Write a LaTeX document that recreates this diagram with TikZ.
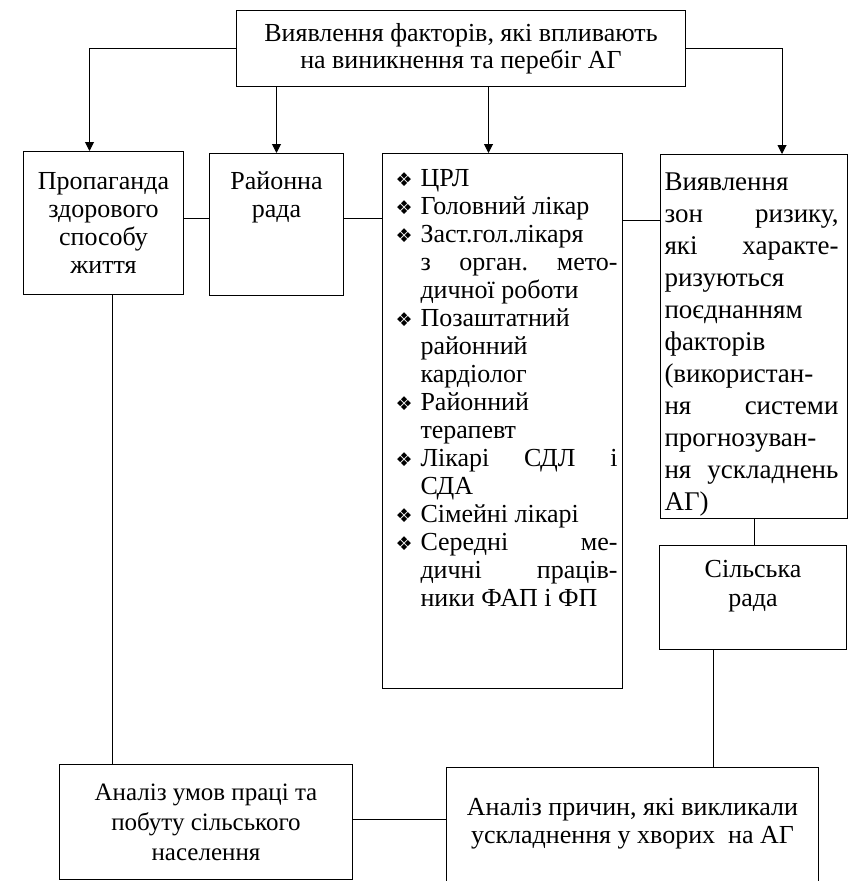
\documentclass[tikz,border=0pt]{standalone}
\usepackage{fontspec}
\setmainfont{Liberation Serif}
\newfontfamily\symfont{DejaVu Sans}
\usetikzlibrary{arrows.meta}

\tikzset{
  blk/.style={draw, line width=1pt, inner sep=0pt, anchor=north west,
    font=\fontsize{26}{28}\selectfont},
  link/.style={line width=1pt},
  arr/.style={line width=1pt, -{Triangle[length=9pt,width=9pt]}},
}

% box with text hanging from its top
\newcommand{\boxtop}[3]{\parbox[c][#1][t]{#2}{#3}}
\newcommand{\bulsym}{{\symfont\fontsize{19}{19}\selectfont ❖}}
\newcommand{\itemline}[1]{\hbox to \hsize{\hspace{13pt}\makebox[25pt][l]{\bulsym}#1\hfil\hspace{5pt}}}
\newcommand{\contline}[1]{\hbox to \hsize{\hspace{38pt}#1\hfil\hspace{5pt}}}
\newcommand{\zoneline}[1]{\hbox to \hsize{\hspace{4pt}#1\hfil\hspace{9pt}}}

\begin{document}
\begin{tikzpicture}[x=1pt,y=-1pt]
    \useasboundingbox (0,0) rectangle (848,881);
    \clip (0,0) rectangle (848,881);

    \node[blk, minimum width=449pt, minimum height=76pt, align=center, font=\fontsize{26}{27}\selectfont] (factors) at (236,10)
        {Виявлення факторів, які впливають\\на виникнення та перебіг АГ};

    \node[blk, minimum width=160pt, minimum height=143pt, align=center, text width=160pt] (prop) at (23,151)
        {Пропаганда\\здорового\\способу\\життя};
    \node[blk] (rada) at (209,153)
        {\boxtop{142pt}{134pt}{\centering\rule{0pt}{36pt}Районна\\рада}};
    \node[blk] (staff) at (382,153)
        {\boxtop{535pt}{240pt}{%
            \itemline{\rule{0pt}{33pt}ЦРЛ}
            \itemline{Головний лікар}
            \itemline{Заст.гол.лікаря}
            \contline{з\hfill орган.\hfill мето-}
            \contline{дичної роботи}
            \itemline{Позаштатний}
            \contline{районний}
            \contline{кардіолог}
            \itemline{Районний}
            \contline{терапевт}
            \itemline{Лікарі\hfill СДЛ\hfill і}
            \contline{СДА}
            \itemline{Сімейні лікарі}
            \itemline{Середні\hfill ме-}
            \contline{дичні\hfill праців-}
            \contline{ники ФАП і ФП}}};
    \node[blk, font=\fontsize{27}{32}\selectfont] (zones) at (660,154)
        {\boxtop{364pt}{187pt}{%
            \zoneline{\rule{0pt}{36pt}Виявлення}
            \zoneline{зон\hfill ризику,}
            \zoneline{які\hfill характе-}
            \zoneline{ризуються}
            \zoneline{поєднанням}
            \zoneline{факторів}
            \zoneline{(використан-}
            \zoneline{ня\hfill системи}
            \zoneline{прогнозуван-}
            \zoneline{ня\hfill ускладнень}
            \zoneline{АГ)}}};
    \node[blk, font=\fontsize{26}{29}\selectfont] (silrada) at (659,545)
        {\boxtop{104pt}{187pt}{\centering\rule{0pt}{32pt}Сільська\\рада}};

    \node[blk, minimum width=293pt, minimum height=115pt, align=center, font=\fontsize{25}{30}\selectfont] (cond) at (59,764)
        {Аналіз умов праці та\\побуту сільського\\населення};
    \node[blk] (causes) at (446,767)
        {\boxtop{120pt}{372pt}{\centering\rule{0pt}{48pt}Аналіз причин, які викликали\\ускладнення у хворих~ на АГ}};

    \coordinate (row) at (0,218);
    \coordinate (row2) at (0,220);
    \coordinate (a3) at ([xshift=-14pt]staff.north);

    \draw[arr] (factors.west) -| ([xshift=-14pt]prop.north);
    \draw[arr] (factors.south -| rada.north) -- (rada.north);
    \draw[arr] (factors.south -| a3) -- (a3);
    \draw[arr] (factors.east) -| ([xshift=28pt]zones.north);

    \draw[link] (prop.east |- row) -- (rada.west |- row);
    \draw[link] (rada.east |- row) -- (staff.west |- row);
    \draw[link] (staff.east |- row2) -- (zones.west |- row2);
    \draw[link] (zones.south) -- (zones.south |- silrada.north);
    \draw[link] ([xshift=9pt]prop.south) -- ([xshift=9pt]prop.south |- cond.north);
    \draw[link] ([xshift=-40pt]silrada.south) -- ([xshift=-40pt]silrada.south |- causes.north);
    \draw[link] ([yshift=3pt]cond.east) -- ([yshift=3pt]cond.east -| causes.west);
\end{tikzpicture}
\end{document}
